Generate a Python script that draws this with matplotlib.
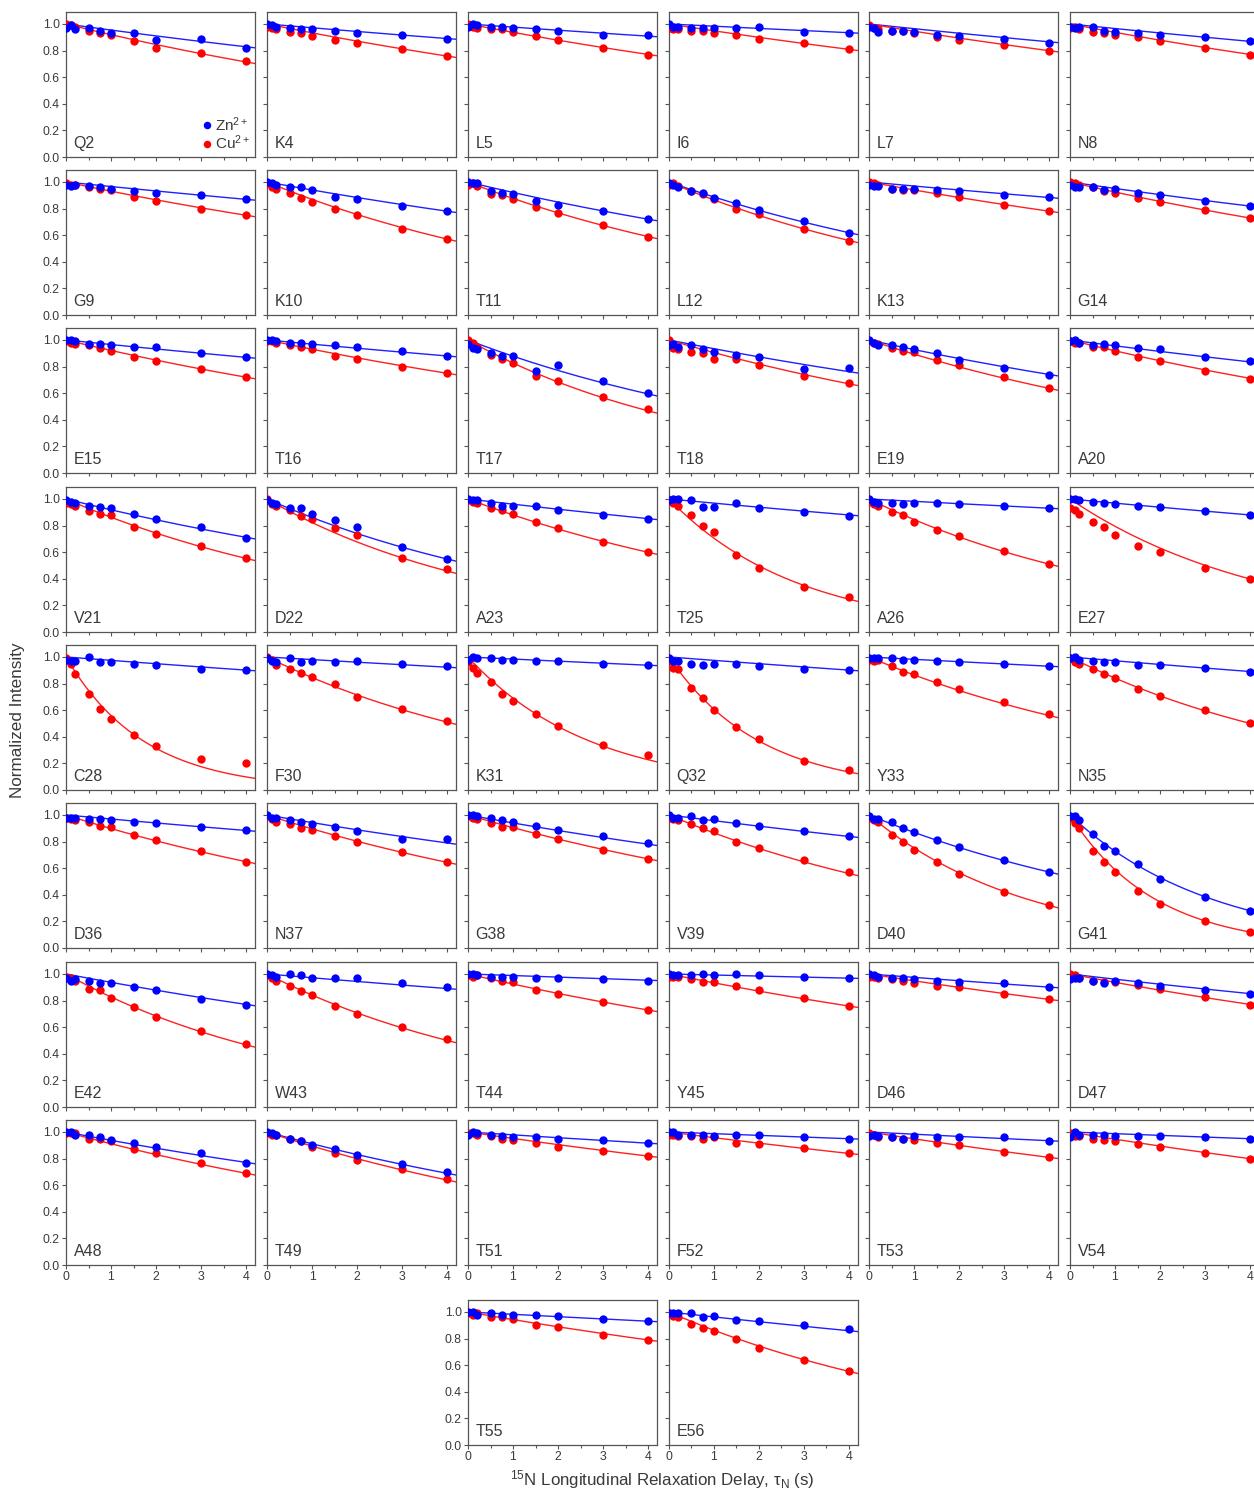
import numpy as np
import matplotlib
matplotlib.use('Agg')
import matplotlib.pyplot as plt
from matplotlib.ticker import MultipleLocator

plt.rcParams['font.family'] = ['Liberation Sans', 'DejaVu Sans']
plt.rcParams['mathtext.fontset'] = 'custom'
plt.rcParams['mathtext.rm'] = 'Liberation Sans'
plt.rcParams['mathtext.it'] = 'Liberation Sans:italic'

# relaxation delays (s)
delays = [0.01, 0.1, 0.2, 0.5, 0.75, 1.0, 1.5, 2.0, 3.0, 4.0]

residues = ['Q2', 'K4', 'L5', 'I6', 'L7', 'N8',
            'G9', 'K10', 'T11', 'L12', 'K13', 'G14',
            'E15', 'T16', 'T17', 'T18', 'E19', 'A20',
            'V21', 'D22', 'A23', 'T25', 'A26', 'E27',
            'C28', 'F30', 'K31', 'Q32', 'Y33', 'N35',
            'D36', 'N37', 'G38', 'V39', 'D40', 'G41',
            'E42', 'W43', 'T44', 'Y45', 'D46', 'D47',
            'A48', 'T49', 'T51', 'F52', 'T53', 'V54',
            'T55', 'E56']

# normalized intensities, Zn2+ sample
zn_int = [
    [0.97, 0.99, 0.96, 0.97, 0.95, 0.93, 0.93, 0.88, 0.89, 0.82],
    [1.00, 0.99, 0.98, 0.97, 0.96, 0.96, 0.95, 0.93, 0.92, 0.89],
    [0.98, 1.00, 0.99, 0.98, 0.98, 0.97, 0.96, 0.95, 0.92, 0.92],
    [1.00, 0.98, 0.98, 0.97, 0.97, 0.97, 0.97, 0.98, 0.94, 0.93],
    [0.98, 0.97, 0.94, 0.95, 0.95, 0.94, 0.92, 0.91, 0.89, 0.86],
    [0.98, 0.97, 0.98, 0.98, 0.95, 0.94, 0.93, 0.92, 0.90, 0.87],
    [0.98, 0.97, 0.98, 0.97, 0.96, 0.95, 0.93, 0.92, 0.90, 0.87],
    [1.00, 0.99, 0.98, 0.96, 0.96, 0.94, 0.89, 0.87, 0.82, 0.78],
    [1.00, 0.99, 0.99, 0.93, 0.92, 0.91, 0.86, 0.83, 0.78, 0.72],
    [0.99, 0.98, 0.96, 0.93, 0.92, 0.88, 0.84, 0.79, 0.71, 0.62],
    [0.98, 0.97, 0.97, 0.95, 0.95, 0.95, 0.94, 0.93, 0.90, 0.89],
    [0.98, 0.96, 0.96, 0.96, 0.94, 0.95, 0.92, 0.90, 0.86, 0.82],
    [1.00, 1.00, 0.99, 0.97, 0.97, 0.96, 0.95, 0.95, 0.90, 0.87],
    [1.00, 1.00, 0.99, 0.98, 0.98, 0.97, 0.96, 0.95, 0.92, 0.88],
    [0.97, 0.94, 0.93, 0.90, 0.88, 0.88, 0.77, 0.81, 0.69, 0.60],
    [0.96, 0.97, 0.95, 0.96, 0.93, 0.91, 0.89, 0.87, 0.78, 0.79],
    [1.00, 0.98, 0.96, 0.96, 0.95, 0.93, 0.90, 0.85, 0.79, 0.74],
    [0.99, 1.00, 0.98, 0.96, 0.97, 0.96, 0.94, 0.93, 0.87, 0.84],
    [0.99, 0.98, 0.97, 0.95, 0.94, 0.93, 0.89, 0.85, 0.79, 0.71],
    [0.99, 0.97, 0.96, 0.93, 0.93, 0.89, 0.84, 0.79, 0.64, 0.55],
    [1.00, 0.99, 0.99, 0.97, 0.95, 0.95, 0.95, 0.92, 0.88, 0.85],
    [0.99, 1.00, 1.00, 0.99, 0.94, 0.94, 0.97, 0.93, 0.90, 0.87],
    [1.00, 0.98, 0.97, 0.97, 0.96, 0.97, 0.97, 0.96, 0.95, 0.93],
    [1.00, 1.00, 0.99, 0.98, 0.97, 0.96, 0.95, 0.94, 0.91, 0.88],
    [0.98, 0.97, 0.97, 1.00, 0.96, 0.96, 0.95, 0.94, 0.91, 0.90],
    [0.99, 0.97, 0.96, 0.99, 0.96, 0.97, 0.96, 0.97, 0.95, 0.93],
    [0.98, 1.00, 0.99, 0.99, 0.98, 0.98, 0.97, 0.97, 0.95, 0.94],
    [0.99, 0.97, 0.97, 0.95, 0.94, 0.95, 0.95, 0.93, 0.91, 0.90],
    [0.99, 0.99, 0.99, 0.99, 0.98, 0.98, 0.97, 0.96, 0.95, 0.93],
    [0.99, 1.00, 0.98, 0.97, 0.96, 0.96, 0.94, 0.94, 0.92, 0.89],
    [0.98, 0.98, 0.98, 0.97, 0.97, 0.96, 0.95, 0.94, 0.91, 0.89],
    [1.00, 0.98, 0.98, 0.96, 0.95, 0.93, 0.91, 0.88, 0.82, 0.82],
    [1.00, 1.00, 0.99, 0.98, 0.96, 0.95, 0.92, 0.89, 0.84, 0.79],
    [1.00, 0.98, 0.98, 0.99, 0.96, 0.97, 0.94, 0.92, 0.88, 0.84],
    [0.99, 0.97, 0.97, 0.95, 0.90, 0.87, 0.81, 0.76, 0.66, 0.57],
    [0.99, 0.99, 0.96, 0.86, 0.77, 0.73, 0.63, 0.52, 0.38, 0.28],
    [0.97, 0.95, 0.96, 0.95, 0.93, 0.93, 0.90, 0.88, 0.81, 0.77],
    [1.00, 0.99, 0.98, 1.00, 0.99, 0.97, 0.97, 0.97, 0.93, 0.90],
    [1.00, 1.00, 0.99, 0.98, 0.98, 0.98, 0.97, 0.97, 0.96, 0.95],
    [1.00, 0.99, 0.99, 0.99, 1.00, 0.99, 1.00, 0.99, 0.98, 0.97],
    [1.00, 0.99, 0.98, 0.97, 0.97, 0.96, 0.95, 0.94, 0.93, 0.90],
    [0.96, 0.97, 0.97, 0.95, 0.93, 0.95, 0.93, 0.91, 0.88, 0.85],
    [1.00, 1.00, 0.98, 0.98, 0.96, 0.94, 0.92, 0.89, 0.84, 0.77],
    [1.00, 0.99, 0.98, 0.95, 0.93, 0.90, 0.87, 0.83, 0.76, 0.70],
    [0.98, 1.00, 0.99, 0.98, 0.97, 0.96, 0.96, 0.95, 0.94, 0.92],
    [1.00, 1.00, 0.98, 0.98, 0.98, 0.97, 0.98, 0.98, 0.96, 0.95],
    [0.97, 0.98, 0.97, 0.96, 0.95, 0.97, 0.96, 0.96, 0.96, 0.93],
    [0.96, 1.00, 0.98, 0.98, 0.98, 0.97, 0.97, 0.97, 0.96, 0.95],
    [1.00, 1.00, 0.98, 0.99, 0.98, 0.98, 0.98, 0.97, 0.95, 0.93],
    [0.99, 0.99, 0.99, 0.99, 0.96, 0.97, 0.94, 0.93, 0.90, 0.87],
]

# normalized intensities, Cu2+ sample
cu_int = [
    [1.00, 0.99, 0.98, 0.95, 0.93, 0.92, 0.87, 0.82, 0.78, 0.72],
    [0.98, 0.97, 0.96, 0.94, 0.93, 0.91, 0.88, 0.86, 0.81, 0.76],
    [1.00, 0.98, 0.97, 0.96, 0.96, 0.94, 0.91, 0.88, 0.82, 0.77],
    [0.97, 0.96, 0.96, 0.95, 0.95, 0.93, 0.92, 0.89, 0.86, 0.81],
    [0.99, 0.97, 0.96, 0.95, 0.95, 0.93, 0.90, 0.88, 0.84, 0.80],
    [0.97, 0.98, 0.96, 0.94, 0.93, 0.92, 0.90, 0.87, 0.82, 0.77],
    [0.99, 0.98, 0.98, 0.96, 0.95, 0.94, 0.89, 0.86, 0.80, 0.75],
    [0.99, 0.96, 0.95, 0.92, 0.88, 0.85, 0.80, 0.75, 0.65, 0.57],
    [0.98, 0.99, 0.97, 0.91, 0.90, 0.87, 0.81, 0.77, 0.68, 0.59],
    [0.98, 0.99, 0.97, 0.93, 0.91, 0.87, 0.80, 0.76, 0.65, 0.56],
    [1.00, 0.99, 0.98, 0.95, 0.94, 0.94, 0.92, 0.89, 0.83, 0.78],
    [1.00, 0.99, 0.98, 0.96, 0.93, 0.92, 0.88, 0.85, 0.79, 0.73],
    [0.99, 0.98, 0.97, 0.96, 0.94, 0.92, 0.87, 0.84, 0.78, 0.72],
    [0.99, 0.99, 0.98, 0.96, 0.95, 0.93, 0.88, 0.86, 0.80, 0.75],
    [1.00, 0.98, 0.95, 0.89, 0.86, 0.83, 0.73, 0.69, 0.57, 0.48],
    [1.00, 0.94, 0.93, 0.91, 0.90, 0.86, 0.86, 0.81, 0.73, 0.68],
    [0.99, 0.98, 0.97, 0.94, 0.92, 0.91, 0.85, 0.81, 0.72, 0.64],
    [0.99, 0.98, 0.98, 0.95, 0.95, 0.92, 0.87, 0.84, 0.77, 0.71],
    [0.97, 0.96, 0.95, 0.91, 0.89, 0.88, 0.79, 0.74, 0.65, 0.56],
    [1.00, 0.96, 0.95, 0.92, 0.87, 0.85, 0.78, 0.73, 0.56, 0.47],
    [0.99, 0.98, 0.97, 0.93, 0.92, 0.89, 0.83, 0.78, 0.68, 0.60],
    [0.99, 0.97, 0.95, 0.88, 0.80, 0.75, 0.58, 0.48, 0.34, 0.26],
    [0.98, 0.96, 0.95, 0.90, 0.88, 0.83, 0.77, 0.72, 0.61, 0.51],
    [0.93, 0.92, 0.89, 0.83, 0.79, 0.73, 0.65, 0.60, 0.48, 0.40],
    [0.99, 0.95, 0.87, 0.72, 0.61, 0.53, 0.41, 0.33, 0.23, 0.20],
    [1.00, 0.98, 0.94, 0.91, 0.88, 0.85, 0.80, 0.70, 0.61, 0.52],
    [0.96, 0.92, 0.88, 0.81, 0.72, 0.67, 0.57, 0.48, 0.34, 0.26],
    [0.97, 0.92, 0.91, 0.77, 0.69, 0.60, 0.47, 0.38, 0.22, 0.15],
    [0.98, 0.97, 0.98, 0.93, 0.89, 0.87, 0.81, 0.76, 0.66, 0.57],
    [0.99, 0.96, 0.95, 0.91, 0.87, 0.84, 0.76, 0.71, 0.60, 0.50],
    [0.98, 0.97, 0.96, 0.95, 0.92, 0.91, 0.85, 0.81, 0.73, 0.65],
    [0.99, 0.97, 0.95, 0.93, 0.90, 0.89, 0.84, 0.80, 0.72, 0.65],
    [0.99, 0.98, 0.97, 0.94, 0.91, 0.91, 0.86, 0.82, 0.74, 0.67],
    [0.98, 0.97, 0.96, 0.93, 0.90, 0.88, 0.80, 0.75, 0.66, 0.57],
    [0.98, 0.96, 0.95, 0.85, 0.80, 0.74, 0.65, 0.56, 0.42, 0.32],
    [0.98, 0.94, 0.90, 0.73, 0.65, 0.57, 0.43, 0.33, 0.20, 0.12],
    [0.98, 0.97, 0.95, 0.89, 0.88, 0.82, 0.75, 0.68, 0.57, 0.47],
    [0.99, 0.97, 0.95, 0.91, 0.87, 0.84, 0.76, 0.70, 0.60, 0.51],
    [0.99, 0.98, 0.99, 0.97, 0.95, 0.94, 0.88, 0.85, 0.79, 0.73],
    [0.98, 0.98, 0.98, 0.96, 0.94, 0.94, 0.91, 0.88, 0.82, 0.76],
    [0.98, 0.98, 0.97, 0.96, 0.95, 0.93, 0.91, 0.90, 0.85, 0.81],
    [1.00, 0.99, 0.97, 0.95, 0.94, 0.94, 0.92, 0.89, 0.83, 0.77],
    [0.99, 0.99, 0.99, 0.95, 0.95, 0.93, 0.87, 0.84, 0.77, 0.69],
    [0.99, 0.98, 0.98, 0.95, 0.93, 0.89, 0.84, 0.79, 0.72, 0.65],
    [0.99, 0.99, 0.98, 0.97, 0.95, 0.94, 0.92, 0.89, 0.86, 0.82],
    [0.98, 0.98, 0.97, 0.97, 0.95, 0.96, 0.92, 0.91, 0.88, 0.84],
    [0.99, 0.98, 0.96, 0.96, 0.95, 0.94, 0.92, 0.90, 0.85, 0.81],
    [0.99, 0.97, 0.97, 0.95, 0.94, 0.93, 0.91, 0.89, 0.84, 0.80],
    [0.99, 0.98, 0.99, 0.96, 0.96, 0.95, 0.90, 0.89, 0.83, 0.79],
    [0.99, 0.97, 0.96, 0.91, 0.88, 0.86, 0.80, 0.73, 0.64, 0.56],
]

# fitted R1 rates (s^-1)
zn_rate = [0.047, 0.029, 0.024, 0.017, 0.036, 0.035,
           0.035, 0.062, 0.082, 0.120, 0.031, 0.050,
           0.035, 0.032, 0.130, 0.068, 0.075, 0.045,
           0.085, 0.150, 0.040, 0.032, 0.018, 0.032,
           0.026, 0.020, 0.016, 0.026, 0.018, 0.029,
           0.031, 0.059, 0.062, 0.044, 0.140, 0.318,
           0.065, 0.029, 0.012, 0.008, 0.026, 0.040,
           0.065, 0.093, 0.022, 0.013, 0.017, 0.013,
           0.018, 0.038]
cu_rate = [0.084, 0.069, 0.065, 0.053, 0.056, 0.065,
           0.072, 0.140, 0.132, 0.145, 0.062, 0.079,
           0.082, 0.072, 0.190, 0.100, 0.113, 0.085,
           0.148, 0.195, 0.128, 0.350, 0.168, 0.230,
           0.580, 0.168, 0.370, 0.500, 0.145, 0.173,
           0.108, 0.110, 0.100, 0.145, 0.285, 0.530,
           0.190, 0.173, 0.079, 0.069, 0.053, 0.065,
           0.093, 0.112, 0.050, 0.044, 0.053, 0.056,
           0.059, 0.148]

W, H = 1254, 1492
fig = plt.figure(figsize=(W / 100, H / 100), dpi=100)

col_left = [66, 267, 468, 669, 869, 1070]
row_top = [12, 170, 328, 487, 645, 803, 962, 1120, 1300]
pw, ph = 189, 145

tcurve = np.linspace(0, 4.2, 200)
text_col = '#3a3a3a'

for i, name in enumerate(residues):
    if i < 48:
        r, c = divmod(i, 6)
    else:
        r, c = 8, 2 + (i - 48)
    x0, y0 = col_left[c], row_top[r]
    ax = fig.add_axes([x0 / W, 1 - (y0 + ph) / H, pw / W, ph / H])

    ax.plot(tcurve, np.exp(-zn_rate[i] * tcurve), color='#2020ff', lw=1.0, zorder=2)
    ax.plot(tcurve, np.exp(-cu_rate[i] * tcurve), color='#ff2020', lw=1.0, zorder=2)
    ax.plot(delays, cu_int[i], 'o', color='#ff0000', ms=6, mew=0, zorder=3, label='Cu$^{2+}$')
    ax.plot(delays, zn_int[i], 'o', color='#0000ff', ms=6, mew=0, zorder=4, label='Zn$^{2+}$')

    ax.set_xlim(0, 4.2)
    ax.set_ylim(0, 1.09)
    ax.xaxis.set_major_locator(MultipleLocator(1))
    ax.xaxis.set_minor_locator(MultipleLocator(0.5))
    ax.yaxis.set_major_locator(MultipleLocator(0.2))
    ax.tick_params(which='both', direction='out', colors='#555555', labelcolor=text_col,
                   labelsize=8.8, length=3, width=0.8, pad=1.5)
    ax.tick_params(which='minor', length=2)
    for s in ax.spines.values():
        s.set_color('#555555')
        s.set_linewidth(0.9)

    if c == 0 or i == 48:
        ax.set_yticklabels(['%.1f' % v for v in ax.get_yticks()])
    else:
        ax.set_yticklabels([])
    if r < 7:
        ax.set_xticklabels([])

    ax.text(0.04, 0.06, name, transform=ax.transAxes, fontsize=11.5, color=text_col)

    if i == 0:
        h, l = ax.get_legend_handles_labels()
        ax.legend(h[::-1], l[::-1], loc='lower right', frameon=False, fontsize=11,
                  handlelength=0.5, handletextpad=0.3, labelspacing=0.0,
                  borderpad=0.2, borderaxespad=0.1, markerscale=0.9,
                  labelcolor=text_col)

fig.text(0.014, 0.517, 'Normalized Intensity', rotation=90, ha='center', va='center',
         fontsize=12.3, color=text_col)
fig.text(0.528, 0.0085, '$^{15}$N Longitudinal Relaxation Delay, \u03c4$_\\mathrm{N}$ (s)',
         ha='center', va='center', fontsize=12.2, color=text_col)

fig.savefig('out.png', dpi=100)
